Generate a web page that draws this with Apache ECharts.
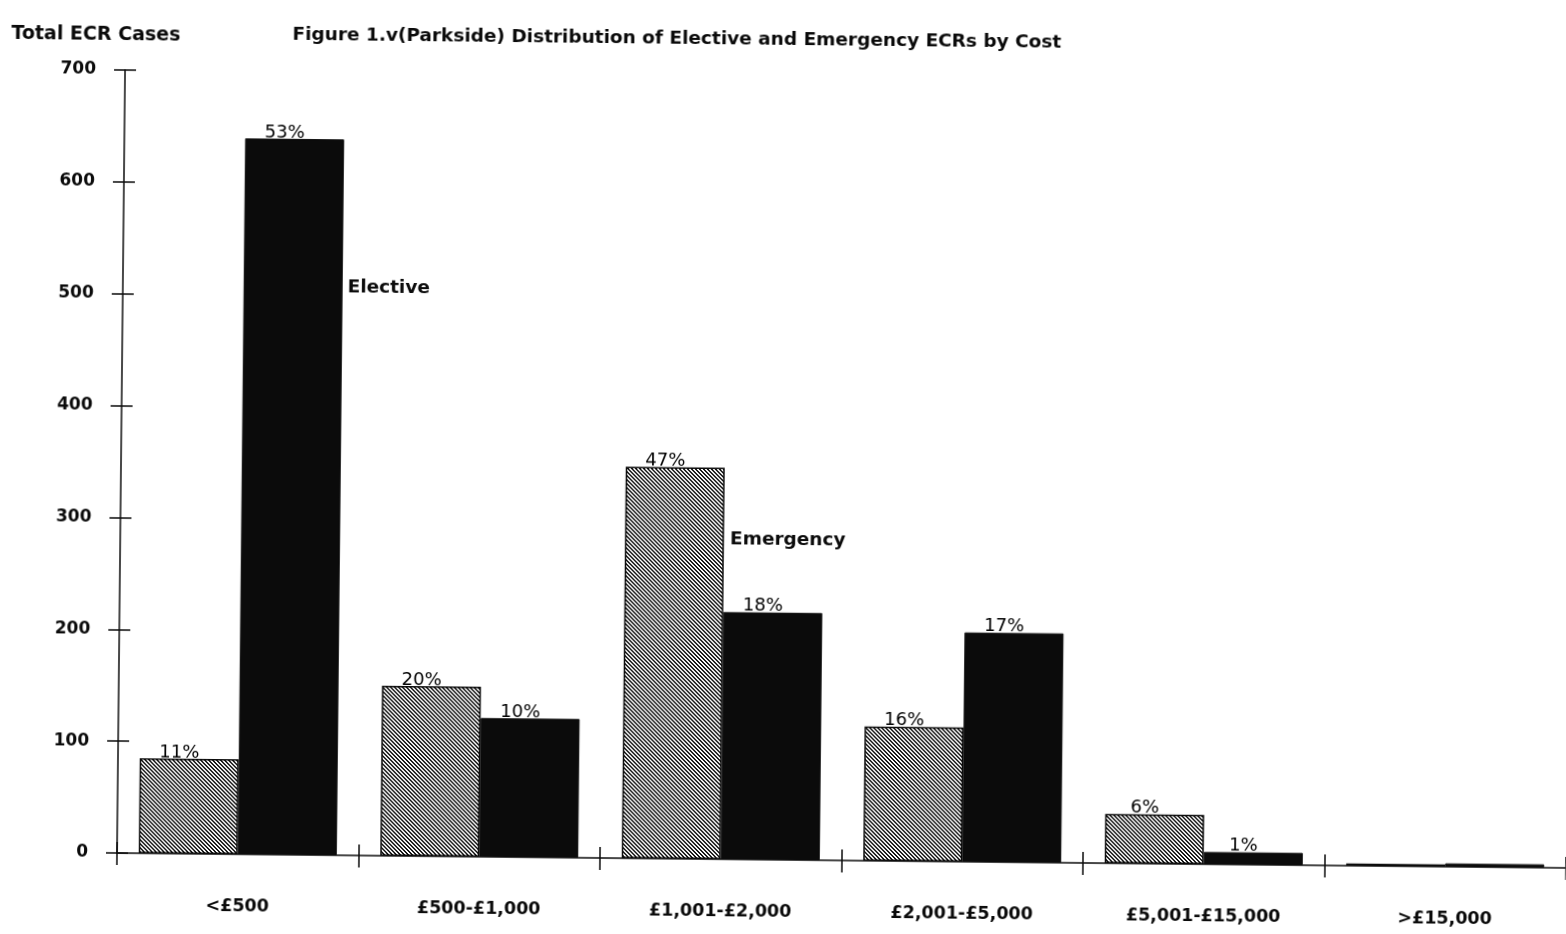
<!DOCTYPE html>
<html>
<head>
<meta charset="utf-8">
<title>Distribution of Elective and Emergency ECRs by Cost</title>
<script src="https://cdn.jsdelivr.net/npm/echarts@6/dist/echarts.min.js"></script>
<style>
  html, body { margin: 0; padding: 0; background: #fff; overflow: hidden; }
  /* the printed page sits very slightly skewed on the scanner bed */
  #chart { width: 1566px; height: 934px; transform-origin: 117px 853px; transform: rotate(0.59deg); }
</style>
</head>
<body>
<div id="chart"></div>
<script>
// Cost bands
const categories = ['<£500', '£500-£1,000', '£1,001-£2,000', '£2,001-£5,000', '£5,001-£15,000', '>£15,000'];
// ECR case counts per cost band
const emergency = [85, 152, 350, 120, 44, 2];
const elective  = [640, 124, 221, 205, 11, 3];
// Share of each admission type's total falling in each band
const emergencyShare = ['11%', '20%', '47%', '16%', '6%', ''];
const electiveShare  = ['53%', '10%', '18%', '17%', '1%', ''];
// Value axis range
const yMin = 0, yMax = 700, yStep = 100;

const FONT = 'DejaVu Sans';
const INK = '#0b0b0b';

// Diagonal hatch fill (falling "\" stripes) used for the emergency bars
function hatchTile() {
  const n = 4;
  const c = document.createElement('canvas');
  c.width = n; c.height = n;
  const g = c.getContext('2d');
  g.fillStyle = '#fff';
  g.fillRect(0, 0, n, n);
  g.fillStyle = '#111';
  for (let row = 0; row < n; row++) {
    g.fillRect(row, row, 1, 1);
    g.fillRect((row + 1) % n, row, 1, 1);
  }
  return c;
}

const chart = echarts.init(document.getElementById('chart'), null, { renderer: 'canvas' });

const shareLabel = (shares) => ({
  show: true,
  position: 'top',
  distance: 0,
  offset: [-10, 3],
  fontFamily: FONT,
  fontSize: 18,
  color: '#000',
  formatter: (p) => shares[p.dataIndex]
});

const baseX = {
  type: 'category',
  data: categories,
  position: 'bottom',
  boundaryGap: true,
  gridIndex: 0
};
const baseY = {
  type: 'value',
  min: yMin, max: yMax, interval: yStep,
  position: 'left',
  splitLine: { show: false },
  gridIndex: 0
};

chart.setOption({
  animation: false,
  backgroundColor: '#fff',
  title: [
    {
      text: 'Figure 1.v(Parkside) Distribution of Elective and Emergency ECRs by Cost',
      left: 279, top: 19,
      textStyle: { fontFamily: FONT, fontSize: 18.5, fontWeight: 'bold', color: INK }
    },
    {
      text: 'Total ECR Cases',
      left: -2, top: 21,
      textStyle: { fontFamily: FONT, fontSize: 19, fontWeight: 'bold', color: INK }
    }
  ],
  grid: { left: 117, top: 70, width: 1452, height: 783, containLabel: false },
  xAxis: [
    Object.assign({}, baseX, {
      axisLine: { show: true, lineStyle: { color: INK, width: 1.5 } },
      axisTick: { show: true, inside: false, length: 12, lineStyle: { color: INK, width: 1.5 } },
      axisLabel: { show: true, margin: 43, fontFamily: FONT, fontSize: 17.5, fontWeight: 'bold', color: INK }
    }),
    Object.assign({}, baseX, {
      axisLine: { show: false },
      axisTick: { show: true, inside: true, length: 11, lineStyle: { color: INK, width: 1.5 } },
      axisLabel: { show: false }
    })
  ],
  yAxis: [
    Object.assign({}, baseY, {
      axisLine: { show: true, lineStyle: { color: INK, width: 1.5 } },
      axisTick: { show: true, inside: false, length: 11, lineStyle: { color: INK, width: 1.5 } },
      axisLabel: { show: true, margin: 29, fontFamily: FONT, fontSize: 17, fontWeight: 'bold', color: INK }
    }),
    Object.assign({}, baseY, {
      axisLine: { show: false },
      axisTick: { show: true, inside: true, length: 11, lineStyle: { color: INK, width: 1.5 } },
      axisLabel: { show: false }
    })
  ],
  series: [
    {
      name: 'Emergency',
      type: 'bar',
      xAxisIndex: 0, yAxisIndex: 0,
      data: emergency,
      barWidth: 99,
      barGap: '0%',
      itemStyle: {
        color: { image: hatchTile(), repeat: 'repeat' },
        borderColor: INK,
        borderWidth: 1.5
      },
      label: shareLabel(emergencyShare)
    },
    {
      name: 'Elective',
      type: 'bar',
      xAxisIndex: 0, yAxisIndex: 0,
      data: elective,
      barWidth: 99,
      barGap: '0%',
      itemStyle: { color: INK, borderColor: INK, borderWidth: 1 },
      label: shareLabel(electiveShare)
    }
  ]
});

// Series names written beside the bars they describe
function seriesTag(text, catIndex, value, dx) {
  const [x, y] = chart.convertToPixel({ xAxisIndex: 0, yAxisIndex: 0 }, [catIndex, value]);
  return {
    type: 'text',
    x: x + dx, y: y,
    style: {
      text: text,
      fontFamily: FONT, fontSize: 18.5, fontWeight: 'bold',
      fill: INK,
      verticalAlign: 'middle', align: 'left'
    }
  };
}
chart.setOption({
  graphic: [
    seriesTag('Elective', 0, 508, 99 + 5),
    seriesTag('Emergency', 2, 286, 6)
  ]
});
</script>
</body>
</html>
